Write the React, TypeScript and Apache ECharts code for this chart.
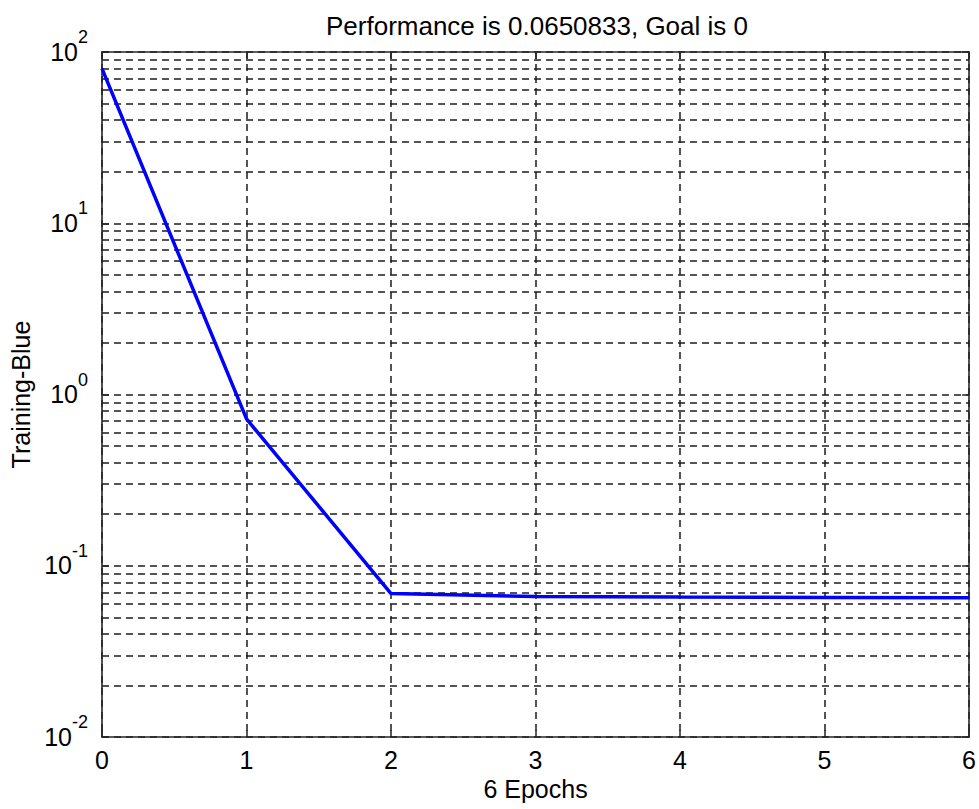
import React, { useEffect, useRef } from 'react';
import * as echarts from 'echarts';

const epochs = [0, 1, 2, 3, 4, 5, 6];
const performance = [80, 0.72, 0.0688, 0.0662, 0.0656, 0.0653, 0.0650833];
const minorGridValues = [
  0.02, 0.03, 0.04, 0.05, 0.06, 0.07, 0.08, 0.09,
  0.2, 0.3, 0.4, 0.5, 0.6, 0.7, 0.8, 0.9,
  2, 3, 4, 5, 6, 7, 8, 9,
  20, 30, 40, 50, 60, 70, 80, 90,
];
const titleText = 'Performance is 0.0650833, Goal is 0';
const xName = '6 Epochs';
const yName = 'Training-Blue';

const FONT = '"Liberation Sans", Arial, Helvetica, sans-serif';

export default function App() {
  const ref = useRef<HTMLDivElement>(null);
  useEffect(() => {
    if (!ref.current) return;
    const chart = echarts.init(ref.current, null, { renderer: 'svg' });
    const dash = [7, 5];
    const gridColor = '#1c1c1c';
    const axisColor = '#262626';
    const axisLine = { show: true, onZero: false, lineStyle: { color: axisColor, width: 1.6 } };
    const axisTick = { show: true, inside: true, length: 7, lineStyle: { color: axisColor, width: 1.5 } };
    const textBase = { fontFamily: FONT, color: '#000', fontSize: 25 };
    chart.setOption({
      animation: false,
      backgroundColor: '#ffffff',
      title: {
        text: titleText,
        left: 532,
        top: 8,
        textAlign: 'center',
        textStyle: { ...textBase, fontSize: 26, fontWeight: 'normal' },
      },
      grid: { left: 102, right: 8, top: 52, bottom: 72, containLabel: false },
      xAxis: [
        {
          type: 'value',
          min: 0,
          max: 6,
          interval: 1,
          name: xName,
          nameLocation: 'middle',
          nameGap: 35,
          nameTextStyle: { ...textBase },
          axisLine,
          axisTick,
          axisLabel: { ...textBase, margin: 10 },
          splitLine: { show: true, lineStyle: { type: dash, color: gridColor, width: 1.5 } },
        },
        {
          type: 'value',
          position: 'top',
          min: 0,
          max: 6,
          interval: 1,
          axisLine,
          axisTick,
          axisLabel: { show: false },
          splitLine: { show: false },
        },
      ],
      yAxis: [
        {
          type: 'log',
          logBase: 10,
          min: 0.01,
          max: 100,
          name: yName,
          nameLocation: 'middle',
          nameGap: 67,
          nameTextStyle: { ...textBase },
          axisLine,
          axisTick,
          axisLabel: {
            margin: 14,
            padding: [0, 0, 12, 0],
            formatter: (v: number) => `{b|10}{s|${Math.round(Math.log10(v))}}`,
            rich: {
              b: { ...textBase, fontSize: 25, lineHeight: 36, verticalAlign: 'bottom' },
              s: { ...textBase, fontSize: 18, lineHeight: 18, verticalAlign: 'top' },
            },
          },
          splitLine: { show: true, lineStyle: { type: dash, color: gridColor, width: 1.5 } },
        },
        {
          type: 'log',
          logBase: 10,
          min: 0.01,
          max: 100,
          position: 'right',
          axisLine,
          axisTick,
          axisLabel: { show: false },
          splitLine: { show: false },
        },
      ],
      series: [
        {
          type: 'line',
          data: [],
          xAxisIndex: 0,
          yAxisIndex: 0,
          z: 1,
          silent: true,
          markLine: {
            silent: true,
            symbol: ['none', 'none'],
            label: { show: false },
            emphasis: { disabled: true },
            lineStyle: { type: dash, color: gridColor, width: 1.5 },
            data: minorGridValues.map((v) => ({ yAxis: v })),
          },
        },
        {
          type: 'line',
          xAxisIndex: 0,
          yAxisIndex: 0,
          z: 5,
          data: epochs.map((x, i) => [x, performance[i]]),
          showSymbol: false,
          symbol: 'none',
          lineStyle: { color: '#0000ff', width: 3.5 },
        },
      ],
    });
    return () => chart.dispose();
  }, []);
  return <div ref={ref} style={{ width: 979, height: 809, position: 'absolute', left: 0, top: 0 }} />;
}
